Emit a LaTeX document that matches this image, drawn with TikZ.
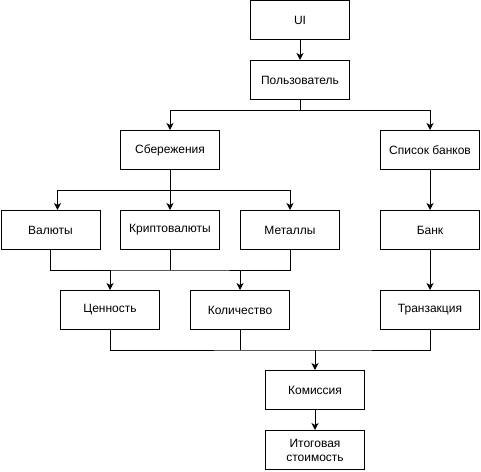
\documentclass[tikz,border=0pt]{standalone}
\usepackage{fontspec}
\setmainfont{Liberation Sans}
\usetikzlibrary{arrows.meta}

\begin{document}
\begin{tikzpicture}[x=1pt,y=-1pt,line width=1pt,
    box/.style={draw,minimum width=99pt,minimum height=39pt,inner sep=2pt,align=center,
      font=\fontsize{12}{14}\selectfont},
    arr/.style={-{Stealth[length=7pt,width=7pt,inset=2pt]}}]
    \useasboundingbox (0,0) rectangle (481,471);
    % boxes
    \node[box](ui) at (300,20) {UI};
    \node[box](usr) at (300,80) {Пользователь};
    \node[box](sav) at (170,150) {Сбережения};
    \node[box](banks) at (430,150) {Список банков};
    \node[box](val) at (50.5,230) {Валюты};
    \node[box](cry) at (170,230) {Криптовалюты};
    \node[box](met) at (290,230) {Металлы};
    \node[box](bank) at (430,230) {Банк};
    \node[box](cost) at (110,310) {Ценность};
    \node[box](qty) at (240,310) {Количество};
    \node[box](tr) at (430,310) {Транзакция};
    \node[box](fee) at (315,390) {Комиссия};
    \node[box](total) at (315,450) {Итоговая\\стоимость};
    % junctions
    \coordinate (j1) at (300,110);
    \coordinate (j2) at (170,190);
    \coordinate (j3) at (170,270);
    \coordinate (j4) at (315,350);
    % connectors
    \draw[arr] (ui)--(usr);
    \draw (usr)--(j1);
    \draw[arr] (j1)-|(sav);
    \draw[arr] (j1)-|(banks);
    \draw (sav)--(j2);
    \draw[arr] (j2)-|([xshift=7pt]val.north);
    \draw[arr] (j2)--(cry);
    \draw[arr] (j2)-|(met);
    \draw (val.south)|-(j3)-|(met.south);
    \draw (cry)--(j3);
    \draw[arr] (cost.north|-j3)--(cost);
    \draw[arr] (qty.north|-j3)--(qty);
    \draw[arr] (banks)--(bank);
    \draw[arr] (bank)--(tr);
    \draw (cost.south)|-(j4)-|(tr.south);
    \draw (qty)--(qty|-j4);
    \draw[arr] (j4)--(fee);
    \draw[arr] (fee)--(total);
\end{tikzpicture}
\end{document}
